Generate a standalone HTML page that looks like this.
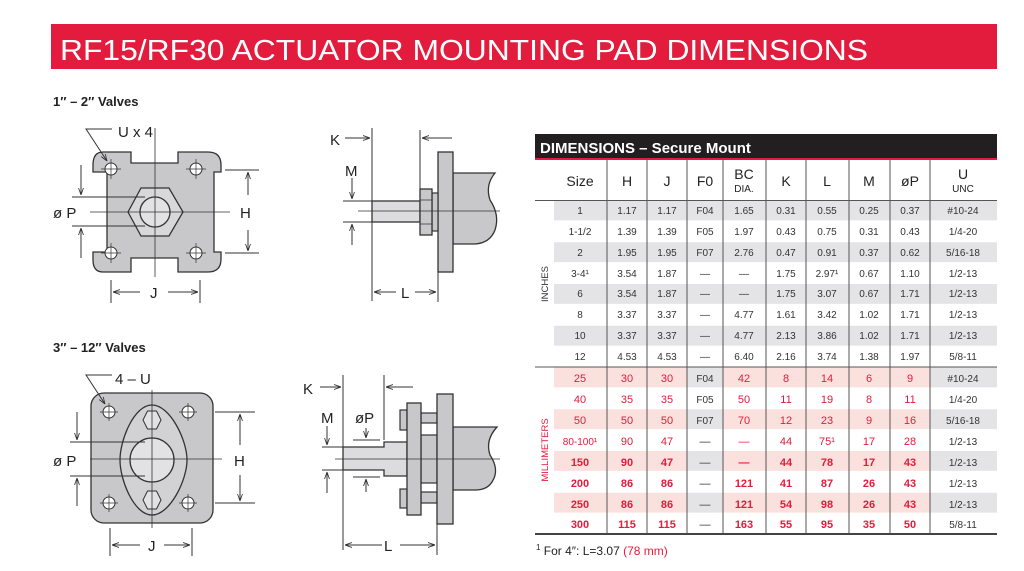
<!DOCTYPE html>
<html><head><meta charset="utf-8"><style>
html,body{margin:0;padding:0;background:#fff;}
svg{display:block;}
text{font-family:"Liberation Sans",sans-serif;}
</style></head><body>
<svg width="1024" height="571" viewBox="0 0 1024 571" xmlns="http://www.w3.org/2000/svg">
<defs>
<marker id="a" viewBox="0 0 10 10" refX="10" refY="5" markerWidth="7" markerHeight="7" orient="auto"><path d="M0,1.5 L10,5 L0,8.5" fill="none" stroke="#333" stroke-width="1.2"/></marker>
</defs>
<!-- header -->
<rect x="51" y="24" width="946" height="45" fill="#e31b3c"/>
<text x="60" y="60" fill="#fff" font-size="29" textLength="808" lengthAdjust="spacingAndGlyphs">RF15/RF30 ACTUATOR MOUNTING PAD DIMENSIONS</text>

<!-- titles -->
<text x="53" y="106" font-size="13" font-weight="bold" fill="#222">1″ – 2″ Valves</text>
<text x="53" y="352" font-size="13" font-weight="bold" fill="#222">3″ – 12″ Valves</text>

<g stroke="#333" stroke-width="1" fill="none">
<!-- TOP LEFT plate -->
<path d="M103,152 H131 V163 H178 V152 H208 Q221,152 221,165 V172 H214 V252 H221 V259 Q221,272 208,272 H178 V258 H131 V272 H103 Q93,272 93,260 V252 H107 V172 H93 V165 Q93,152 103,152 Z" fill="#c8c8ca" stroke-width="1.3"/>
<g fill="#fff"><circle cx="111" cy="169" r="6"/><circle cx="196" cy="169" r="6"/><circle cx="111" cy="253" r="6"/><circle cx="196" cy="253" r="6"/></g>
<g stroke-width="0.7"><path d="M101,169h20M111,159v20M186,169h20M196,159v20M101,253h20M111,243v20M186,253h20M196,243v20"/></g>
<path d="M128,212 L141,188 H169 L183,212 L169,236 H141 Z" fill="#d8d8da" stroke-width="1.3"/>
<circle cx="155" cy="212" r="15" fill="#e2e2e4" stroke-width="1.3"/>
<path d="M155,128 V277 M90,212 H230" stroke-width="0.8"/>
<path d="M225,170 H259 M225,253 H259 M72,197 H145 M72,226 H145"/>
<path d="M248,195 V172" marker-end="url(#a)"/><path d="M248,230 V251" marker-end="url(#a)"/>
<path d="M81,165 V195" marker-end="url(#a)"/><path d="M81,258 V228" marker-end="url(#a)"/>
<path d="M111,280 V303 M200,280 V303"/>
<path d="M140,292 H113" marker-end="url(#a)"/><path d="M168,292 H198" marker-end="url(#a)"/>
<path d="M112,129 H86 L107,161" marker-end="url(#a)"/>

<!-- TOP RIGHT side view -->
<path d="M372,128 V301 M420,130 V195"/>
<path d="M345,138 H370" marker-end="url(#a)"/><path d="M452,138 H422" marker-end="url(#a)"/>
<path d="M453,173 H495 Q485,185 490,200 Q500,215 495,230 Q490,243 475,244 H453 Z" fill="#c8c8ca" stroke-width="1.3"/>
<rect x="438" y="152" width="15" height="120" fill="#c8c8ca" stroke-width="1.3"/>
<rect x="372" y="201" width="48" height="21" fill="#dcdcde" stroke-width="1.3"/>
<rect x="432" y="193" width="6" height="38" fill="#c8c8ca" stroke-width="1.2"/>
<rect x="420" y="189" width="12" height="46" fill="#c8c8ca" stroke-width="1.3"/>
<path d="M420,200 H432 M420,224 H432" stroke-width="0.8"/>
<path d="M358,211 H500" stroke-width="0.8"/>
<path d="M343,201 H372 M343,222 H372"/>
<path d="M352,178 V199" marker-end="url(#a)"/><path d="M352,245 V224" marker-end="url(#a)"/>
<path d="M438,272 V302"/>
<path d="M396,292 H374" marker-end="url(#a)"/><path d="M415,292 H436" marker-end="url(#a)"/>

<!-- BOTTOM LEFT plate -->
<rect x="91" y="393" width="122" height="130" rx="13" fill="#c8c8ca" stroke-width="1.3"/>
<g fill="#fff"><circle cx="109" cy="412" r="6"/><circle cx="188" cy="412" r="6"/><circle cx="109" cy="503" r="6"/><circle cx="188" cy="503" r="6"/></g>
<g stroke-width="0.7"><path d="M100,412h18M109,403v18M179,412h18M188,403v18M100,503h18M109,494v18M179,503h18M188,494v18"/></g>
<path d="M152,405 C170,405 187,440 187,460 C187,480 170,515 152,515 C134,515 120,480 120,460 C120,440 134,405 152,405 Z" fill="#d2d2d4" stroke-width="1.3"/>
<path d="M143,420 L147.5,411 H156.5 L161,420 L156.5,429 H147.5 Z" fill="#e2e2e4"/>
<path d="M143,500 L147.5,491 H156.5 L161,500 L156.5,509 H147.5 Z" fill="#e2e2e4"/>
<circle cx="152" cy="460" r="22" fill="#e2e2e4" stroke-width="1.3"/>
<path d="M152,390 V528 M90,459 H222" stroke-width="0.8"/>
<path d="M215,412 H255 M215,503 H255 M70,442 H145 M70,476 H145"/>
<path d="M240,445 V414" marker-end="url(#a)"/><path d="M240,475 V501" marker-end="url(#a)"/>
<path d="M77,412 V440" marker-end="url(#a)"/><path d="M77,506 V478" marker-end="url(#a)"/>
<path d="M110,528 V556 M192,528 V556"/>
<path d="M140,545 H112" marker-end="url(#a)"/><path d="M164,545 H190" marker-end="url(#a)"/>
<path d="M112,375 H86 L105,404" marker-end="url(#a)"/>

<!-- BOTTOM RIGHT side view -->
<path d="M343,375 V550 M384,375 V440"/>
<path d="M320,387 H341" marker-end="url(#a)"/><path d="M413,387 H386" marker-end="url(#a)"/>
<path d="M453,427 H497 Q485,440 490,455 Q500,470 492,482 Q487,490 475,490 H453 Z" fill="#c8c8ca" stroke-width="1.3"/>
<rect x="421" y="435" width="16" height="48" fill="#c8c8ca" stroke-width="1.2"/>
<rect x="421" y="413" width="16" height="10" fill="#c8c8ca" stroke-width="1.2"/>
<rect x="421" y="492" width="16" height="11" fill="#c8c8ca" stroke-width="1.2"/>
<rect x="400" y="410" width="7" height="20" fill="#c8c8ca" stroke-width="1.2"/>
<rect x="400" y="489" width="7" height="19" fill="#c8c8ca" stroke-width="1.2"/>
<path d="M343,447 H384 V442 H407 V476 H384 V470 H343 Z" fill="#dcdcde" stroke-width="1.3"/>
<rect x="407" y="403" width="14" height="112" fill="#c8c8ca" stroke-width="1.3"/>
<rect x="437" y="394" width="16" height="130" fill="#c8c8ca" stroke-width="1.3"/>
<path d="M335,459 H500" stroke-width="0.8"/>
<path d="M322,447 H343 M322,470 H343 M353,440 H380 M353,477 H380"/>
<path d="M327,426 V445" marker-end="url(#a)"/><path d="M327,493 V472" marker-end="url(#a)"/>
<path d="M366,428 V438" marker-end="url(#a)"/><path d="M366,492 V479" marker-end="url(#a)"/>
<path d="M437,524 V555"/>
<path d="M382,545 H345" marker-end="url(#a)"/><path d="M400,545 H435" marker-end="url(#a)"/>
</g>

<g font-size="15" fill="#222">
<text x="118" y="137">U x 4</text>
<text x="53" y="218">ø P</text>
<text x="240" y="218">H</text>
<text x="150" y="298">J</text>
<text x="330" y="145">K</text>
<text x="345" y="176">M</text>
<text x="401" y="298">L</text>
<text x="115" y="384">4 – U</text>
<text x="53" y="466">ø P</text>
<text x="234" y="466">H</text>
<text x="148" y="551">J</text>
<text x="303" y="394">K</text>
<text x="321" y="423">M</text>
<text x="355" y="423">øP</text>
<text x="384" y="551">L</text>
</g>

<!-- TABLE -->
<rect x="535" y="134" width="462" height="24" fill="#231f20"/>
<rect x="535" y="158" width="462" height="2" fill="#e31b3c"/>
<text x="540" y="153" font-size="15" font-weight="bold" fill="#fff">DIMENSIONS – Secure Mount</text>

<!-- inch shading rows 1,3,5,7 -->
<g fill="#e4e4e6">
<rect x="554" y="200" width="443" height="20.9"/>
<rect x="554" y="241.75" width="443" height="20.9"/>
<rect x="554" y="283.5" width="443" height="20.9"/>
<rect x="554" y="325.25" width="443" height="20.9"/>
</g>
<g fill="#fbe1dd">
<rect x="554" y="367" width="443" height="20.9"/>
<rect x="554" y="408.75" width="443" height="20.9"/>
<rect x="554" y="450.5" width="443" height="20.9"/>
<rect x="554" y="492.25" width="443" height="20.9"/>
</g>
<g fill="#e4e4e6">
<rect x="687" y="367" width="36" height="20.9"/><rect x="930" y="367" width="67" height="20.9"/>
<rect x="687" y="408.75" width="36" height="20.9"/><rect x="930" y="408.75" width="67" height="20.9"/>
<rect x="687" y="450.5" width="36" height="20.9"/><rect x="930" y="450.5" width="67" height="20.9"/>
<rect x="687" y="492.25" width="36" height="20.9"/><rect x="930" y="492.25" width="67" height="20.9"/>
</g>
<g stroke="#fff" stroke-width="1">
<path d="M554,220.9H997M554,241.75H997M554,262.6H997M554,283.5H997M554,304.4H997M554,325.25H997M554,346.1H997M554,387.9H997M554,408.75H997M554,429.6H997M554,450.5H997M554,471.4H997M554,492.25H997M554,513.1H997"/>
</g>
<g stroke="#555" stroke-width="1">
<path d="M535,200.5H997M535,367H997"/>
<path d="M607,160V534M647,160V534M687,160V534M723,160V534M766,160V534M806,160V534M849,160V534M890,160V534M930,160V534"/>
</g>
<rect x="535" y="533" width="462" height="2" fill="#444"/>

<g font-size="14" fill="#222" text-anchor="middle">
<text x="580" y="186">Size</text><text x="627" y="186">H</text><text x="667" y="186">J</text><text x="705" y="186">F0</text>
<text x="744" y="179">BC</text><text x="744" y="192" font-size="10">DIA.</text>
<text x="786" y="186">K</text><text x="827" y="186">L</text><text x="869" y="186">M</text><text x="910" y="186">øP</text>
<text x="963" y="179">U</text><text x="963" y="192" font-size="10">UNC</text>
</g>
<text transform="translate(548,284) rotate(-90)" font-size="9.5" fill="#333" text-anchor="middle">INCHES</text>
<text transform="translate(548,450) rotate(-90)" font-size="9.5" fill="#e31b3c" text-anchor="middle">MILLIMETERS</text>

<g font-size="10" fill="#333" text-anchor="middle">
<g transform="translate(0,214)"><text x="580">1</text><text x="627">1.17</text><text x="667">1.17</text><text x="705">F04</text><text x="744">1.65</text><text x="786">0.31</text><text x="827">0.55</text><text x="869">0.25</text><text x="910">0.37</text><text x="963">#10-24</text></g>
<g transform="translate(0,235)"><text x="580">1-1/2</text><text x="627">1.39</text><text x="667">1.39</text><text x="705">F05</text><text x="744">1.97</text><text x="786">0.43</text><text x="827">0.75</text><text x="869">0.31</text><text x="910">0.43</text><text x="963">1/4-20</text></g>
<g transform="translate(0,256)"><text x="580">2</text><text x="627">1.95</text><text x="667">1.95</text><text x="705">F07</text><text x="744">2.76</text><text x="786">0.47</text><text x="827">0.91</text><text x="869">0.37</text><text x="910">0.62</text><text x="963">5/16-18</text></g>
<g transform="translate(0,277)"><text x="580">3-4¹</text><text x="627">3.54</text><text x="667">1.87</text><text x="705">—</text><text x="744">—</text><text x="786">1.75</text><text x="827">2.97¹</text><text x="869">0.67</text><text x="910">1.10</text><text x="963">1/2-13</text></g>
<g transform="translate(0,297)"><text x="580">6</text><text x="627">3.54</text><text x="667">1.87</text><text x="705">—</text><text x="744">—</text><text x="786">1.75</text><text x="827">3.07</text><text x="869">0.67</text><text x="910">1.71</text><text x="963">1/2-13</text></g>
<g transform="translate(0,318)"><text x="580">8</text><text x="627">3.37</text><text x="667">3.37</text><text x="705">—</text><text x="744">4.77</text><text x="786">1.61</text><text x="827">3.42</text><text x="869">1.02</text><text x="910">1.71</text><text x="963">1/2-13</text></g>
<g transform="translate(0,339)"><text x="580">10</text><text x="627">3.37</text><text x="667">3.37</text><text x="705">—</text><text x="744">4.77</text><text x="786">2.13</text><text x="827">3.86</text><text x="869">1.02</text><text x="910">1.71</text><text x="963">1/2-13</text></g>
<g transform="translate(0,360)"><text x="580">12</text><text x="627">4.53</text><text x="667">4.53</text><text x="705">—</text><text x="744">6.40</text><text x="786">2.16</text><text x="827">3.74</text><text x="869">1.38</text><text x="910">1.97</text><text x="963">5/8-11</text></g>
</g>

<g font-size="11" fill="#e31b3c" text-anchor="middle">
<g transform="translate(0,382)"><text x="580">25</text><text x="627">30</text><text x="667">30</text><text x="705" fill="#333" font-size="10">F04</text><text x="744">42</text><text x="786">8</text><text x="827">14</text><text x="869">6</text><text x="910">9</text><text x="963" fill="#333" font-size="10">#10-24</text></g>
<g transform="translate(0,403)"><text x="580">40</text><text x="627">35</text><text x="667">35</text><text x="705" fill="#333" font-size="10">F05</text><text x="744">50</text><text x="786">11</text><text x="827">19</text><text x="869">8</text><text x="910">11</text><text x="963" fill="#333" font-size="10">1/4-20</text></g>
<g transform="translate(0,424)"><text x="580">50</text><text x="627">50</text><text x="667">50</text><text x="705" fill="#333" font-size="10">F07</text><text x="744">70</text><text x="786">12</text><text x="827">23</text><text x="869">9</text><text x="910">16</text><text x="963" fill="#333" font-size="10">5/16-18</text></g>
<g transform="translate(0,445)"><text x="580" font-size="10">80-100¹</text><text x="627">90</text><text x="667">47</text><text x="705" fill="#333">—</text><text x="744">—</text><text x="786">44</text><text x="827">75¹</text><text x="869">17</text><text x="910">28</text><text x="963" fill="#333" font-size="10">1/2-13</text></g>
<g font-weight="bold">
<g transform="translate(0,466)"><text x="580">150</text><text x="627">90</text><text x="667">47</text><text x="705" fill="#333" font-weight="normal">—</text><text x="744">—</text><text x="786">44</text><text x="827">78</text><text x="869">17</text><text x="910">43</text><text x="963" fill="#333" font-size="10" font-weight="normal">1/2-13</text></g>
<g transform="translate(0,487)"><text x="580">200</text><text x="627">86</text><text x="667">86</text><text x="705" fill="#333" font-weight="normal">—</text><text x="744">121</text><text x="786">41</text><text x="827">87</text><text x="869">26</text><text x="910">43</text><text x="963" fill="#333" font-size="10" font-weight="normal">1/2-13</text></g>
<g transform="translate(0,508)"><text x="580">250</text><text x="627">86</text><text x="667">86</text><text x="705" fill="#333" font-weight="normal">—</text><text x="744">121</text><text x="786">54</text><text x="827">98</text><text x="869">26</text><text x="910">43</text><text x="963" fill="#333" font-size="10" font-weight="normal">1/2-13</text></g>
<g transform="translate(0,528)"><text x="580">300</text><text x="627">115</text><text x="667">115</text><text x="705" fill="#333" font-weight="normal">—</text><text x="744">163</text><text x="786">55</text><text x="827">95</text><text x="869">35</text><text x="910">50</text><text x="963" fill="#333" font-size="10" font-weight="normal">5/8-11</text></g>
</g>
</g>

<text x="536" y="555" font-size="12" fill="#222"><tspan font-size="8" dy="-5">1</tspan><tspan dy="5"> For 4″:  L=3.07 </tspan><tspan fill="#e31b3c">(78 mm)</tspan></text>
</svg>
</body></html>
